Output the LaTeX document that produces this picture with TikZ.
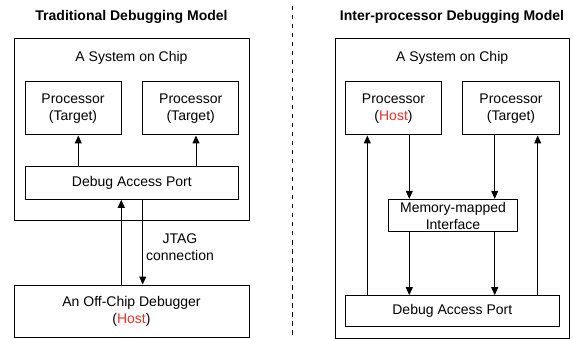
\documentclass[tikz,border=0pt]{standalone}
\usepackage{fontspec}
\setmainfont{Liberation Sans}
\usepackage{tikz}
\usetikzlibrary{arrows.meta}
\definecolor{hostred}{RGB}{232,48,42}

\begin{document}
\begin{tikzpicture}[x=1pt, y=-1pt,
  every node/.style={font=\fontsize{14}{17}\selectfont, align=center, inner sep=0pt},
  box/.style={draw, line width=1pt},
  title/.style={font=\fontsize{14}{17}\selectfont\bfseries},
  arr/.style={line width=1pt, -{Triangle[length=8pt, width=7pt]}}]
\useasboundingbox (0,0) rectangle (573,339);
%
% left: traditional model
\node [title] (titleL) at (131.5,17) {Traditional Debugging Model};
\node [box, minimum width=235, minimum height=181.7] (socL) at (131.5,129.85) {};
\node (socLtext) at (131.5,58) {A System on Chip};
\node [box, minimum width=96, minimum height=53.3] (procLa) at (73,108.35) {Processor\\(Target)};
\node [box, minimum width=96, minimum height=53.3] (procLb) at (190.7,108.35) {Processor\\(Target)};
\node [box, minimum width=213.7, minimum height=32.6] (dapL) at (131.85,183) {Debug Access Port};
\node [box, minimum width=235, minimum height=52.7] (dbg) at (131.5,311.35) {An Off-Chip Debugger\\(\textcolor{hostred}{Host})};
\node (jtag) at (180,247) {JTAG\\connection};
%
\draw [arr] ([xshift=5.3pt]procLa.south |- dapL.north) -- ([xshift=5.3pt]procLa.south);
\draw [arr] ([xshift=5.3pt]procLb.south |- dapL.north) -- ([xshift=5.3pt]procLb.south);
\draw [arr] ([xshift=-10.2pt]dbg.north) -- ([xshift=-10.2pt]dbg.north |- dapL.south);
\draw [arr] ([xshift=11.2pt]dbg.north |- dapL.south) -- ([xshift=11.2pt]dbg.north);
%
% divider
\draw [line width=1pt, dash pattern=on 4.5pt off 4.5pt] (292,6) -- (292,337);
%
% right: inter-processor model
\node [title] (titleR) at (452,17) {Inter-processor Debugging Model};
\node [box, minimum width=234.3, minimum height=299.3] (socR) at (452.15,188.65) {};
\node (socRtext) at (452.15,58) {A System on Chip};
\node [box, minimum width=96.4, minimum height=53.3] (procRa) at (393.5,108.35) {Processor\\(\textcolor{hostred}{Host})};
\node [box, minimum width=96.6, minimum height=53.3] (procRb) at (511,108.35) {Processor\\(Target)};
\node [box, minimum width=129.4, minimum height=32.4] (mmi) at (453,215.5) {Memory-mapped\\Interface};
\node [box, minimum width=214, minimum height=31] (dapR) at (452.3,311.2) {Debug Access Port};
%
\draw [arr] ([xshift=-26.2pt]procRa.south |- dapR.north) -- ([xshift=-26.2pt]procRa.south);
\draw [arr] ([xshift=15.8pt]procRa.south) -- ([xshift=15.8pt]procRa.south |- mmi.north);
\draw [arr] ([xshift=-16.3pt]procRb.south) -- ([xshift=-16.3pt]procRb.south |- mmi.north);
\draw [arr] ([xshift=26.7pt]procRb.south |- dapR.north) -- ([xshift=26.7pt]procRb.south);
\draw [arr] ([xshift=15.8pt]procRa.south |- mmi.south) -- ([xshift=15.8pt]procRa.south |- dapR.north);
\draw [arr] ([xshift=-16.3pt]procRb.south |- mmi.south) -- ([xshift=-16.3pt]procRb.south |- dapR.north);
%%%%%%%%%%%%%%%%%%%%%%%%%%%%%%%
\end{tikzpicture}
\end{document}
